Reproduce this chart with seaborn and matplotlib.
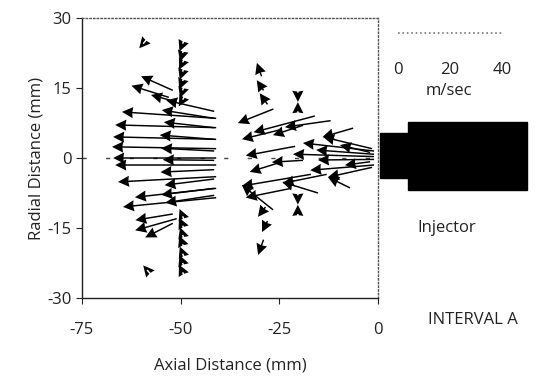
import numpy as np
import pandas as pd
import seaborn as sns
import matplotlib.pyplot as plt
from matplotlib.patches import Rectangle

# velocity vectors: tail position (mm) and velocity (m/s)
# long jets from the x=-41 station
xa = [-41, -41, -41, -41, -41, -41, -41, -41, -41]
ya = [8.5, 6.5, 4, 2, 0, -1.5, -4, -6.5, -8.5]
ua = [-36.3, -38.9, -39.7, -40.1, -39.7, -38.9, -37.8, -31.3, -35.9]
va = [2.1, 0.9, 0.8, 0.6, 0, 0, -1.7, -2.9, -3.0]

# shorter arrows ending on the x=-54 column
xb = [-41.5, -41.5, -41.5, -41.5, -41.5, -41.5, -41.5, -41.5, -41.5, -41.5]
yb = [10, 8.5, 6.5, 4, 1.5, -0.5, -2.5, -4.5, -6.5, -8]
ub = [-18.5, -20.2, -19.4, -21.0, -20.5, -19.8, -20.7, -19.1, -20.4, -18.8]
vb = [3.6, 2.7, 1.8, 1.4, 0.9, 0.2, -0.8, -2.0, -2.1, -2.4]

# edge of the first cloud
xc = [-52, -53, -51, -52, -51, -52, -59.5, -58.5]
yc = [14.5, 13, 12, -12, -13, -14, 24.5, -24]
uc = [-12.2, -14.4, -9.9, -14.4, -16.0, -10.6, -1.5, -1.5]
vc = [4.6, 3.8, 2.3, -2.0, -3.8, -4.6, -1.5, 1.5]

# entrainment chains at x=-49.5
xd = [-49.5] * 14
yd = [24.5, 22.5, 20.5, 18.5, 16.5, 14.5, 12.5,
      -12.5, -14.5, -16.5, -18.5, -20.5, -22.5, -24.5]
ud = [-1.2, -1.0, -1.4, -1.1, -1.3, -1.0, -1.5,
      -1.2, -1.4, -1.0, -1.3, -1.1, -1.2, -1.4]
vd = [-2.5, -2.8, -2.4, -2.6, -2.7, -2.5, -2.2,
      2.4, 2.6, 2.5, 2.8, 2.3, 2.6, 2.5]

# second cloud around x=-30
xe = [-26.5, -16, -25, -21, -25, -17, -22, -19, -19, -12, -13, -15.2, -26.6,
      -29.5, -29, -28, -28.5, -28, -29, -20.3, -20.3, -20.3, -20.3]
ye = [10.5, 9, 6, 2.5, -1, -3.5, -6.5, 7, -0.5, 8, -3.5, -7.5, -11.1,
      17.5, 14.5, 11.5, -10.5, -13.5, -17.5, 14, 10, -8, -12]
ue = [-13.7, -23.6, -14.4, -19.0, -11.4, -26.6, -17.5, -11.6, -12.0, -17.6, -16.9, -13.8, -12.0,
      -1.8, -2.6, -3.0, -2.9, -2.1, -2.1, 0, 0, 0, 0]
ve = [-4.6, -5.3, -3.0, -3.0, -3.0, -3.8, -3.0, -3.2, -0.6, -2.1, -2.9, 3.6, 8.1,
      4.4, 3.3, 3.6, -3.2, -3.6, -5.0, -3.0, 3.0, -3.0, 3.0]

# jet leaving the injector
xf = [-1, -1, -1.5, -1.5, -1, -1, -2, -2, -1, -6.3, -7.1]
yf = [1.5, -1.5, 2, -2, 0.8, -0.3, 1.2, -0.8, 0.3, 6.4, -6.4]
uf = [-27.4, -24.6, -18.8, -17.0, -22.3, -21.6, -11.6, -9.7, -31.2, -11.8, -8.5]
vf = [2.6, -1.7, 3.8, -3.2, 1.4, -0.2, 2.4, -1.1, 0.8, -2.9, 3.5]

df = pd.DataFrame({'x': xa + xb + xc + xd + xe + xf,
                   'y': ya + yb + yc + yd + ye + yf,
                   'u': ua + ub + uc + ud + ue + uf,
                   'v': va + vb + vc + vd + ve + vf})

ms_per_mm = 1.52   # 40 m/s scale bar spans ~26 mm

sns.set_theme(style='ticks')
plt.rcParams['font.family'] = ['Open Sans', 'DejaVu Sans']
plt.rcParams['axes.unicode_minus'] = False

fig = plt.figure(figsize=(5.51, 3.79), dpi=100)
ax = fig.add_axes([0.1488, 0.2137, 0.5372, 0.7388])

ax.axhline(0, color='#444444', lw=1, dashes=(3, 14), zorder=1)
ax.quiver(df['x'], df['y'], df['u'], df['v'], angles='xy', scale_units='xy',
          scale=ms_per_mm, width=0.005, headwidth=7.5, headlength=7.5,
          headaxislength=7, minshaft=0, color='black', zorder=3)

ax.set_xlim(-75, 0)
ax.set_ylim(-30, 30)
ax.set_xticks([-75, -50, -25, 0])
ax.set_yticks([30, 15, 0, -15, -30])
ax.tick_params(labelsize=12, length=4, width=0.8, colors='#222222')
ax.tick_params(axis='x', pad=13)
ax.set_xlabel('Axial Distance (mm)', fontsize=12, color='#222222', labelpad=14)
ax.set_ylabel('Radial Distance (mm)', fontsize=12, color='#222222', labelpad=2)
for s in ['left', 'bottom']:
    ax.spines[s].set_color('#222222')
    ax.spines[s].set_linewidth(1.0)
for s in ['top', 'right']:
    ax.spines[s].set_color('#555555')
    ax.spines[s].set_linestyle(':')
    ax.spines[s].set_linewidth(1.0)

# injector body
ax.add_patch(Rectangle((0.5, -4.3), 7.5, 9.7, color='black', clip_on=False))
ax.add_patch(Rectangle((7.6, -6.9), 30.2, 14.6, color='black', clip_on=False))

# velocity scale bar
ax.plot([5.1, 5.1 + 40 / ms_per_mm], [26.8, 26.8], color='#777777', ls=':', lw=1.2,
        clip_on=False)
for val in [0, 20, 40]:
    ax.text(5.1 + val / ms_per_mm, 18.8, str(val), ha='center', va='center',
            fontsize=12, color='#222222', clip_on=False)
ax.text(18, 14.3, 'm/sec', ha='center', va='center', fontsize=12, color='#222222')
ax.text(17.5, -15, 'Injector', ha='center', va='center', fontsize=12, color='#222222')
fig.text(0.858, 0.155, 'INTERVAL A', ha='center', va='center', fontsize=12, color='#222222')

fig.savefig('out.png', dpi=100)
